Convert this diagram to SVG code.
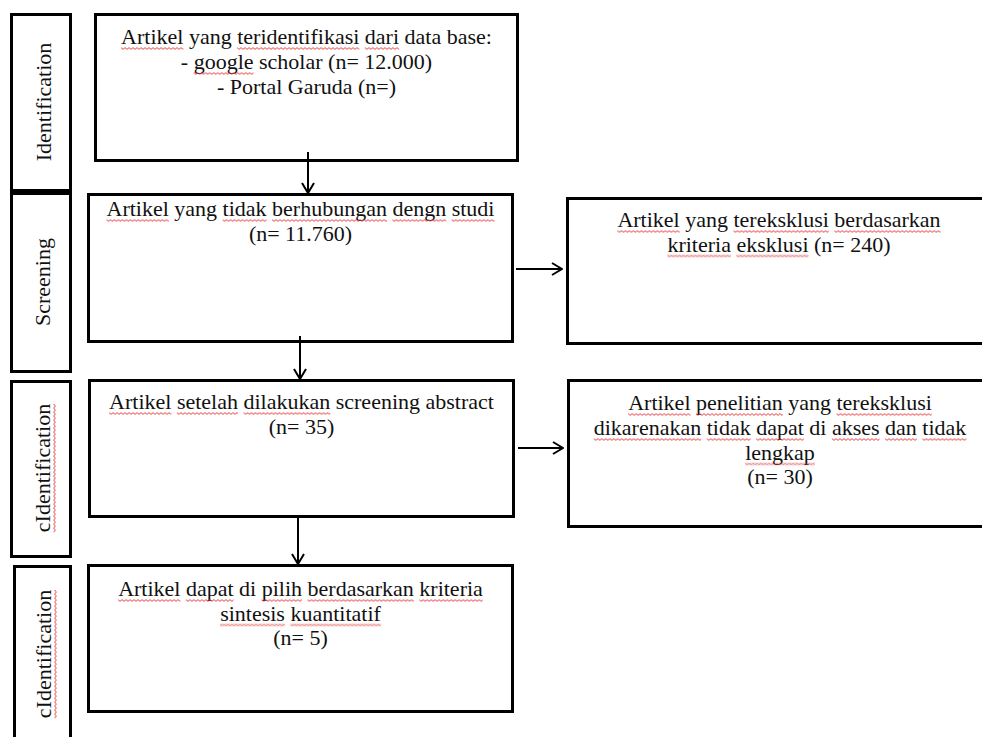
<svg xmlns="http://www.w3.org/2000/svg" width="982" height="737" viewBox="0 0 982 737">
<style>
.box{fill:#fff;stroke:#000;stroke-width:3}
.t{font-family:"Liberation Serif","Times New Roman",serif;font-size:22px;fill:#111;text-anchor:middle}
.sq{fill:url(#wave)}
.c{stroke:#000;stroke-width:2;fill:none}
</style>
<defs>
<marker id="ah" viewBox="0 0 12 14" refX="11" refY="7" markerWidth="12" markerHeight="14" markerUnits="userSpaceOnUse" orient="auto">
<path d="M1,1 L11,7 L1,13" fill="none" stroke="#000" stroke-width="2"/>
</marker>
<pattern id="wave" patternUnits="userSpaceOnUse" width="4" height="3">
<path d="M0,0.6 L2,2.4 L4,0.6" fill="none" stroke="#e52b2b" stroke-width="0.9"/>
</pattern>
</defs>
<rect width="982" height="737" fill="#fff"/>

<g id="side-identification">
<rect class="box" x="11.5" y="14.5" width="59" height="176"/>
<text class="t" transform="translate(51,102) rotate(-90)">Identification</text>
</g>
<g id="side-screening">
<rect class="box" x="11.5" y="193.5" width="59" height="178"/>
<text class="t" transform="translate(50,282) rotate(-90)">Screening</text>
</g>
<g id="side-cidentification-1">
<rect class="box" x="11.5" y="381.5" width="59" height="175"/>
<text class="t" transform="translate(50,468) rotate(-90)">cIdentification</text>
<rect class="sq" transform="translate(53,532.2) rotate(-90)" width="128.3" height="3"/>
</g>
<g id="side-cidentification-2">
<rect class="box" x="14.5" y="566.5" width="56" height="200"/>
<text class="t" transform="translate(51,654) rotate(-90)">cIdentification</text>
<rect class="sq" transform="translate(54,718.2) rotate(-90)" width="128.3" height="3"/>
</g>

<g id="box-identified">
<rect class="box" x="95.5" y="14.5" width="422" height="146"/>
<text class="t" x="306.5" y="44">Artikel yang teridentifikasi dari data base:</text>
<text class="t" x="306.5" y="69">- google scholar (n= 12.000)</text>
<text class="t" x="306.5" y="94">- Portal Garuda (n=)</text>
<rect class="sq" transform="translate(121.1,47)" width="62.3" height="3"/>
<rect class="sq" transform="translate(237.1,47)" width="122.2" height="3"/>
<rect class="sq" transform="translate(364.9,47)" width="34.2" height="3"/>
<rect class="sq" transform="translate(193.7,72)" width="59.9" height="3"/>
</g>
<g id="box-screening">
<rect class="box" x="88.5" y="194.5" width="424" height="147"/>
<text class="t" x="300.5" y="216">Artikel yang tidak berhubungan dengn studi</text>
<text class="t" x="300.5" y="240.5">(n= 11.760)</text>
<rect class="sq" transform="translate(106.5,219)" width="62.3" height="3"/>
<rect class="sq" transform="translate(222.6,219)" width="44" height="3"/>
<rect class="sq" transform="translate(272.1,219)" width="114.9" height="3"/>
<rect class="sq" transform="translate(392.5,219)" width="53.8" height="3"/>
<rect class="sq" transform="translate(451.7,219)" width="42.8" height="3"/>
</g>
<g id="box-excluded-criteria">
<rect class="box" x="567.5" y="198.5" width="430" height="145"/>
<text class="t" x="779" y="227">Artikel yang tereksklusi berdasarkan</text>
<text class="t" x="779" y="251.5">kriteria eksklusi (n= 240)</text>
<rect class="sq" transform="translate(617.4,230)" width="62.3" height="3"/>
<rect class="sq" transform="translate(733.5,230)" width="95.3" height="3"/>
<rect class="sq" transform="translate(834.3,230)" width="106.3" height="3"/>
<rect class="sq" transform="translate(667.4,254.5)" width="63.5" height="3"/>
<rect class="sq" transform="translate(736.4,254.5)" width="72.1" height="3"/>
</g>
<g id="box-abstract">
<rect class="box" x="89.5" y="380.5" width="424" height="136"/>
<text class="t" x="301.5" y="409">Artikel setelah dilakukan screening abstract</text>
<text class="t" x="301.5" y="434">(n= 35)</text>
<rect class="sq" transform="translate(109.1,412)" width="62.3" height="3"/>
<rect class="sq" transform="translate(176.9,412)" width="61.1" height="3"/>
<rect class="sq" transform="translate(243.5,412)" width="86.8" height="3"/>
</g>
<g id="box-excluded-access">
<rect class="box" x="568.5" y="380.5" width="430" height="146"/>
<text class="t" x="780" y="410">Artikel penelitian yang tereksklusi</text>
<text class="t" x="780" y="435">dikarenakan tidak dapat di akses dan tidak</text>
<text class="t" x="780" y="459.5">lengkap</text>
<text class="t" x="780" y="484">(n= 30)</text>
<rect class="sq" transform="translate(628.2,413)" width="62.3" height="3"/>
<rect class="sq" transform="translate(696,413)" width="86.8" height="3"/>
<rect class="sq" transform="translate(836.5,413)" width="95.3" height="3"/>
<rect class="sq" transform="translate(593.7,438)" width="107.5" height="3"/>
<rect class="sq" transform="translate(706.7,438)" width="44" height="3"/>
<rect class="sq" transform="translate(756.2,438)" width="47.7" height="3"/>
<rect class="sq" transform="translate(831.9,438)" width="47.7" height="3"/>
<rect class="sq" transform="translate(885.1,438)" width="31.8" height="3"/>
<rect class="sq" transform="translate(922.4,438)" width="44" height="3"/>
<rect class="sq" transform="translate(745.2,462.5)" width="69.7" height="3"/>
</g>
<g id="box-included">
<rect class="box" x="88.5" y="565.5" width="424" height="146"/>
<text class="t" x="300.5" y="596">Artikel dapat di pilih berdasarkan kriteria</text>
<text class="t" x="300.5" y="620.5">sintesis kuantitatif</text>
<text class="t" x="300.5" y="645">(n= 5)</text>
<rect class="sq" transform="translate(118.1,599)" width="62.3" height="3"/>
<rect class="sq" transform="translate(185.9,599)" width="47.7" height="3"/>
<rect class="sq" transform="translate(261.7,599)" width="40.3" height="3"/>
<rect class="sq" transform="translate(307.5,599)" width="106.3" height="3"/>
<rect class="sq" transform="translate(419.3,599)" width="63.5" height="3"/>
<rect class="sq" transform="translate(220.1,623.5)" width="64.8" height="3"/>
<rect class="sq" transform="translate(290.4,623.5)" width="90.5" height="3"/>
</g>

<g id="connectors">
<line class="c" x1="308" y1="152" x2="308" y2="193" marker-end="url(#ah)"/>
<line class="c" x1="300" y1="336" x2="300" y2="379" marker-end="url(#ah)"/>
<line class="c" x1="298" y1="518" x2="298" y2="564" marker-end="url(#ah)"/>
<line class="c" x1="516" y1="269" x2="562" y2="269" marker-end="url(#ah)"/>
<line class="c" x1="518" y1="448" x2="563" y2="448" marker-end="url(#ah)"/>
</g>
</svg>
